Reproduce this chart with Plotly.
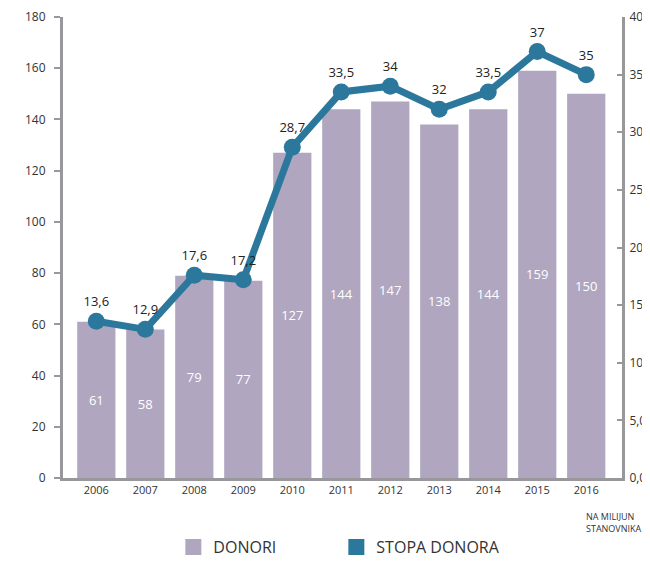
import plotly.graph_objects as go

years = ["2006", "2007", "2008", "2009", "2010", "2011", "2012", "2013", "2014", "2015", "2016"]
donori = [61, 58, 79, 77, 127, 144, 147, 138, 144, 159, 150]
stopa = [13.6, 12.9, 17.6, 17.2, 28.7, 33.5, 34, 32, 33.5, 37, 35]
stopa_labels = ["13,6", "12,9", "17,6", "17,2", "28,7", "33,5", "34", "32", "33,5", "37", "35"]
right_ticks = [0, 5, 10, 15, 20, 25, 30, 35, 40]
right_ticktext = ["0,0", "5,0", "10,0", "15,0", "20,0", "25,0", "30,0", "35,0", "40,0"]

BAR_COLOR = "#b0a6c0"
LINE_COLOR = "#2c789c"
AXIS_COLOR = "#98979c"
FONT = "Open Sans"

fig = go.Figure()

fig.add_trace(go.Bar(
    x=list(range(len(years))), y=donori, text=[str(v) for v in donori],
    textposition="inside", insidetextanchor="middle",
    textfont=dict(color="white", size=13, family=FONT),
    marker=dict(color=BAR_COLOR, line=dict(width=0)),
    showlegend=False, hoverinfo="skip",
))

fig.add_trace(go.Scatter(
    x=list(range(len(years))), y=stopa, yaxis="y2", mode="lines+markers+text",
    text=stopa_labels, textposition="top center",
    textfont=dict(color="#222", size=13, family=FONT),
    line=dict(color=LINE_COLOR, width=7),
    marker=dict(color=LINE_COLOR, size=17),
    showlegend=False, cliponaxis=False,
))

# legend entries
fig.add_trace(go.Scatter(x=[None], y=[None], mode="markers", name="DONORI",
                         marker=dict(symbol="square", size=16, color=BAR_COLOR)))
fig.add_trace(go.Scatter(x=[None], y=[None], mode="markers", name="STOPA DONORA",
                         marker=dict(symbol="square", size=16, color=LINE_COLOR)))

# page has an 8px body margin; size the figure so the page does not scroll
fig.update_layout(
    width=642, height=547,
    margin=dict(l=55, r=28, t=9, b=77, autoexpand=False),
    plot_bgcolor="white", paper_bgcolor="white",
    font=dict(family=FONT, size=12, color="#333"),
    bargap=0.22,
    xaxis=dict(
        range=[-0.68, 10.73], tickvals=list(range(len(years))), ticktext=years,
        showline=True, linecolor=AXIS_COLOR, linewidth=3, ticks="",
        showgrid=False, zeroline=False, tickfont=dict(size=11), automargin=False,
    ),
    yaxis=dict(
        range=[0, 180], dtick=20, showline=True, linecolor=AXIS_COLOR, linewidth=3,
        ticks="outside", ticklen=6, tickcolor=AXIS_COLOR, tickwidth=2,
        ticklabelstandoff=6,
        showgrid=False, zeroline=False, tickfont=dict(size=12), automargin=False,
    ),
    yaxis2=dict(
        range=[0, 40], overlaying="y", side="right",
        tickvals=right_ticks, ticktext=right_ticktext,
        showline=True, linecolor=AXIS_COLOR, linewidth=3,
        ticks="inside", ticklen=5, tickcolor=AXIS_COLOR, tickwidth=2,
        ticklabelstandoff=2,
        showgrid=False, zeroline=False, tickfont=dict(size=12), automargin=False,
    ),
    legend=dict(
        orientation="h", x=0.489, xanchor="center", y=-0.15, yanchor="middle",
        font=dict(size=16, color="#333"), itemwidth=30, entrywidth=118,
    ),
    annotations=[dict(
        text="NA MILIJUN<br>STANOVNIKA", xref="paper", yref="paper",
        x=1.0, xanchor="left", xshift=-38, y=-0.064, yanchor="top",
        showarrow=False, align="left", font=dict(size=9, color="#333"),
    )],
)

fig.write_html("out.html")
